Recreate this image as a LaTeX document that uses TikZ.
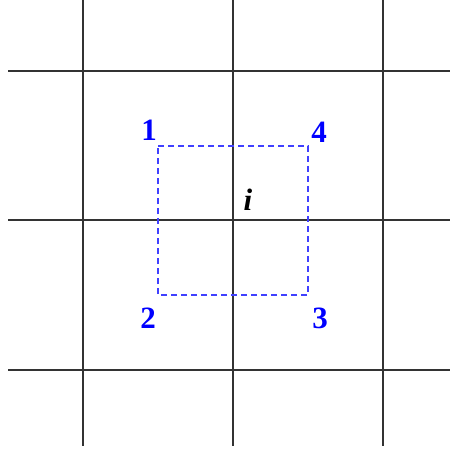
\documentclass[tikz,border=0pt]{standalone}
\usepackage{fontspec}
\setmainfont{Liberation Serif}
\begin{document}
\begin{tikzpicture}[x=1pt,y=-1pt,
  gridline/.style={line width=1.1pt,black!80},
  cell/.style={blue!75,line width=1.3pt,dash pattern=on 6pt off 4pt},
  corner/.style={text=blue,font=\fontsize{31}{33}\selectfont\bfseries,inner sep=0pt},
  centerlabel/.style={font=\fontsize{31}{33}\selectfont\bfseries\itshape,inner sep=0pt}]
\useasboundingbox (0,0) rectangle (450,454);
% grid
\foreach \x in {83,233,383} \draw[gridline] (\x,0) -- (\x,446);
\foreach \y in {71,220,370} \draw[gridline] (8,\y) -- (450,\y);
% dashed control volume
\coordinate (c1) at (158,146);
\coordinate (c4) at (308,146);
\coordinate (c3) at (308,295);
\coordinate (c2) at (158,295);
\draw[cell] (c1) -- (c4) -- (c3) -- (c2) -- cycle;
% labels
\node[corner] (l1) at (149,130) {1};
\node[corner] (l4) at (319,132) {4};
\node[corner] (l2) at (148,318) {2};
\node[corner] (l3) at (320,318) {3};
\node[centerlabel] (li) at (248,200) {i};
\end{tikzpicture}
\end{document}
